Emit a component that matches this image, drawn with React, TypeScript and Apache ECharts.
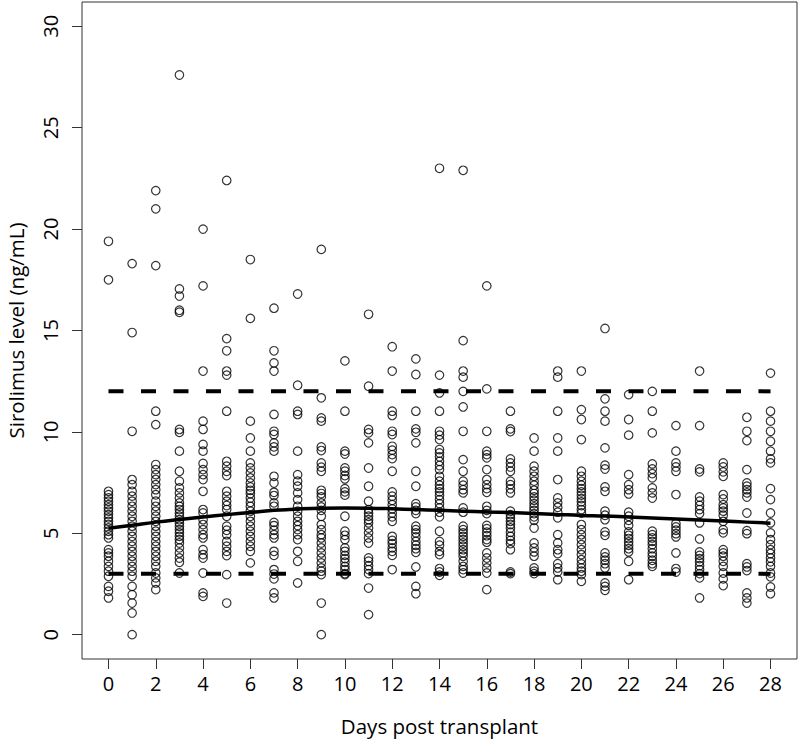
import React, { useEffect, useRef } from "react";
import * as echarts from "echarts";

// Sirolimus levels per day post transplant
const day0 = [19.4, 17.5, 7.07, 6.9, 6.74, 6.58, 6.41, 6.25, 6.09, 5.92, 5.76, 5.59, 5.43, 5.26, 5.1, 4.93, 4.77, 4.19, 4.03, 3.87, 3.62, 3.37, 3.13, 2.88, 2.38, 2.14, 1.81];
const day1 = [18.3, 14.9, 10.03, 7.65, 7.4, 7.07, 6.83, 6.58, 6.33, 6.09, 5.84, 5.59, 5.35, 5.1, 4.85, 4.6, 4.36, 4.11, 3.87, 3.62, 3.37, 3.13, 2.88, 2.38, 1.97, 1.56, 1.07, 0.0];
const day2 = [21.9, 21.0, 18.2, 11.02, 10.36, 8.39, 8.14, 7.89, 7.65, 7.4, 7.15, 6.9, 6.58, 6.33, 6.09, 5.84, 5.59, 5.35, 5.1, 4.85, 4.6, 4.36, 4.11, 3.87, 3.62, 3.37, 3.04, 2.8, 2.55, 2.22];
const day3 = [27.6, 17.05, 16.7, 16.0, 15.9, 10.12, 9.98, 9.05, 8.06, 7.57, 7.24, 6.99, 6.74, 6.5, 6.33, 6.17, 6.0, 5.84, 5.67, 5.51, 5.35, 5.18, 5.02, 4.85, 4.69, 4.52, 4.28, 4.03, 3.78, 3.57, 3.04];
const day4 = [20.0, 17.2, 13.0, 10.53, 10.12, 9.38, 9.05, 8.44, 8.14, 7.89, 7.65, 7.07, 6.17, 6.0, 5.67, 5.43, 5.18, 4.93, 4.77, 4.19, 3.95, 3.78, 3.04, 2.06, 1.89];
const day5 = [22.4, 14.6, 14.0, 13.0, 12.8, 11.02, 8.55, 8.31, 8.06, 7.85, 7.07, 6.83, 6.58, 6.37, 6.17, 5.84, 5.35, 5.15, 4.93, 4.6, 4.36, 4.11, 3.9, 2.96, 1.56];
const day6 = [18.5, 15.6, 10.53, 9.7, 9.05, 8.47, 8.22, 7.98, 7.73, 7.48, 7.29, 7.12, 6.96, 6.74, 6.53, 6.33, 6.09, 5.84, 5.59, 5.35, 5.1, 4.85, 4.6, 4.36, 4.11, 3.54];
const day7 = [16.1, 14.0, 13.4, 13.0, 10.86, 10.03, 9.87, 9.46, 9.26, 9.05, 7.81, 7.48, 7.02, 6.86, 6.5, 6.33, 5.54, 5.38, 5.15, 4.93, 4.77, 4.11, 3.91, 3.21, 2.99, 2.75, 2.06, 1.81];
const day8 = [16.8, 12.3, 11.02, 10.86, 9.05, 7.89, 7.57, 7.32, 6.99, 6.66, 6.33, 6.09, 5.84, 5.59, 5.38, 5.18, 4.93, 4.69, 4.11, 3.62, 2.55];
const day9 = [19.0, 11.68, 10.69, 10.53, 9.26, 9.08, 8.47, 8.26, 8.06, 7.12, 6.96, 6.79, 6.5, 6.3, 6.13, 5.84, 5.43, 5.18, 4.93, 4.77, 4.52, 4.28, 4.03, 3.78, 3.54, 3.29, 3.13, 2.96, 1.56, 0.0];
const day10 = [13.5, 11.02, 9.05, 8.91, 8.22, 8.06, 7.85, 7.68, 7.2, 7.04, 6.88, 5.84, 5.1, 4.9, 4.69, 4.28, 4.11, 3.91, 3.75, 3.57, 3.37, 3.21, 3.01, 2.96];
const day11 = [15.8, 12.25, 10.12, 9.95, 9.46, 8.22, 7.32, 6.58, 6.17, 6.0, 5.84, 5.67, 5.51, 5.26, 5.02, 4.77, 4.52, 3.78, 3.62, 3.4, 3.21, 3.01, 2.3, 0.99];
const day12 = [14.2, 13.0, 11.02, 10.81, 10.03, 9.87, 9.29, 9.1, 8.88, 8.68, 8.06, 7.04, 6.83, 6.63, 6.41, 6.2, 6.0, 5.81, 5.59, 4.85, 4.65, 4.49, 4.28, 4.11, 3.91, 3.21];
const day13 = [13.6, 12.83, 11.02, 10.15, 9.98, 9.46, 8.06, 7.32, 6.46, 6.3, 6.13, 5.97, 5.35, 5.18, 5.02, 4.82, 4.6, 4.41, 4.24, 4.06, 3.34, 2.38, 2.02];
const day14 = [23.0, 12.8, 11.92, 11.02, 10.03, 9.84, 9.62, 9.13, 8.96, 8.77, 8.55, 8.34, 8.14, 7.81, 7.57, 7.37, 7.2, 7.04, 6.86, 6.66, 6.46, 6.25, 6.04, 5.81, 5.1, 4.6, 4.41, 4.11, 3.95, 3.26, 3.09, 2.93];
const day15 = [22.9, 14.5, 13.0, 12.7, 12.0, 11.23, 10.03, 8.63, 8.06, 7.57, 7.37, 7.15, 6.99, 6.25, 6.04, 5.35, 5.18, 5.02, 4.85, 4.69, 4.52, 4.36, 4.19, 4.03, 3.87, 3.62, 3.37, 3.21, 3.04];
const day16 = [17.2, 12.12, 10.03, 9.05, 8.88, 8.72, 8.14, 7.65, 7.4, 7.2, 7.02, 6.33, 6.13, 5.97, 5.39, 5.23, 5.05, 4.88, 4.69, 4.56, 4.03, 3.78, 3.54, 3.29, 3.04, 2.22];
const day17 = [11.02, 10.15, 10.02, 8.67, 8.47, 8.27, 8.06, 7.57, 7.4, 7.19, 6.99, 6.09, 5.92, 5.76, 5.59, 5.43, 5.26, 5.05, 4.85, 4.65, 4.49, 4.19, 3.09, 3.01];
const day18 = [9.7, 9.05, 8.31, 8.06, 7.81, 7.57, 7.37, 7.12, 6.96, 6.79, 6.63, 6.46, 6.3, 6.13, 5.97, 5.81, 5.64, 5.26, 4.52, 4.28, 4.08, 3.87, 3.29, 3.13, 3.01];
const day19 = [13.0, 12.7, 11.02, 9.7, 9.05, 7.65, 6.74, 6.5, 6.28, 6.04, 5.76, 4.93, 4.52, 4.19, 4.0, 3.5, 3.29, 3.09, 2.71];
const day20 = [13.0, 11.1, 10.61, 9.62, 8.06, 7.81, 7.57, 7.37, 7.2, 7.04, 6.88, 6.71, 6.55, 6.37, 6.17, 6.0, 5.43, 5.18, 4.93, 4.69, 4.44, 4.19, 3.95, 3.7, 3.49, 3.29, 3.13, 2.96, 2.63];
const day21 = [15.1, 11.63, 11.02, 10.53, 9.21, 8.36, 8.17, 7.29, 7.07, 6.09, 5.89, 5.67, 5.07, 4.9, 4.03, 3.83, 3.67, 3.5, 3.29, 2.55, 2.38, 2.19];
const day22 = [11.84, 10.61, 9.84, 7.89, 7.4, 7.15, 6.94, 6.04, 5.84, 5.64, 5.39, 5.07, 4.9, 4.74, 4.57, 4.41, 4.24, 4.08, 3.62, 2.71];
const day23 = [12.0, 11.02, 9.95, 8.42, 8.17, 7.94, 7.73, 7.24, 6.99, 6.74, 5.1, 4.93, 4.77, 4.6, 4.44, 4.24, 4.03, 3.87, 3.67, 3.5, 3.37];
const day24 = [10.31, 9.05, 8.47, 8.27, 8.06, 6.91, 5.48, 5.31, 5.15, 4.98, 4.82, 4.03, 3.26, 3.09];
const day25 = [13.0, 10.31, 8.17, 8.03, 6.79, 6.58, 6.37, 6.17, 5.97, 5.51, 4.72, 4.08, 3.91, 3.75, 3.59, 3.4, 3.21, 3.01, 2.8, 1.81];
const day26 = [8.47, 8.27, 8.03, 7.81, 6.91, 6.69, 6.41, 6.25, 6.09, 5.89, 5.59, 5.18, 5.02, 4.19, 4.03, 3.87, 3.62, 3.37, 3.04, 2.75, 2.42];
const day27 = [10.72, 10.03, 9.57, 8.14, 7.48, 7.32, 7.15, 6.99, 6.79, 6.0, 5.13, 4.98, 3.5, 3.34, 3.16, 2.06, 1.81, 1.56];
const day28 = [12.9, 11.02, 10.53, 10.03, 9.54, 9.05, 8.67, 8.47, 7.2, 6.66, 6.0, 5.51, 5.02, 4.69, 4.44, 4.19, 4.0, 3.78, 3.59, 3.37, 3.04, 2.85, 2.35, 2.02];

const levelsByDay = [
  day0, day1, day2, day3, day4, day5, day6, day7, day8, day9,
  day10, day11, day12, day13, day14, day15, day16, day17, day18, day19,
  day20, day21, day22, day23, day24, day25, day26, day27, day28,
];

// Smoothed trend
const smoothDays = [0, 1, 2, 3, 4, 5, 6, 7, 8, 9, 10, 11, 12, 13, 14, 15, 16, 17, 18, 19, 20, 21, 22, 23, 24, 25, 26, 27, 28];
const smoothLevels = [5.25, 5.4, 5.55, 5.68, 5.8, 5.92, 6.03, 6.13, 6.2, 6.24, 6.25, 6.24, 6.21, 6.17, 6.13, 6.09, 6.05, 6.02, 5.98, 5.93, 5.88, 5.85, 5.8, 5.75, 5.7, 5.65, 5.6, 5.55, 5.5];

// Target range
const targetRange = [3, 12];
const targetStart = 0;
const targetEnd = 28;

// Axis ticks
const xTicks = [0, 2, 4, 6, 8, 10, 12, 14, 16, 18, 20, 22, 24, 26, 28];
const yTicks = [0, 5, 10, 15, 20, 25, 30];

const FONT = "'Open Sans', 'Noto Sans', sans-serif";

export default function App() {
  const ref = useRef<HTMLDivElement>(null);

  useEffect(() => {
    if (!ref.current) return;
    const chart = echarts.init(ref.current, undefined, { renderer: "svg" });

    const points: number[][] = [];
    levelsByDay.forEach((vals, d) => {
      vals.forEach((v) => points.push([d, v]));
    });

    const series: any[] = [
      {
        type: "scatter",
        data: points,
        symbol: "circle",
        symbolSize: 8.5,
        itemStyle: { color: "rgba(0,0,0,0)", borderColor: "#000", borderWidth: 1.2 },
        silent: true,
      },
      {
        type: "line",
        data: smoothDays.map((d, i) => [d, smoothLevels[i]]),
        smooth: true,
        symbol: "none",
        lineStyle: { color: "#000", width: 3.5 },
        silent: true,
      },
    ];
    targetRange.forEach((t) => {
      series.push({
        type: "line",
        data: [
          [targetStart, t],
          [targetEnd, t],
        ],
        symbol: "none",
        lineStyle: { color: "#000", width: 4, type: [15, 17.5], cap: "butt" },
        silent: true,
      });
    });

    chart.setOption({
      animation: false,
      backgroundColor: "#fff",
      grid: {
        left: 82,
        right: 3,
        top: 2,
        bottom: 82,
        show: true,
        borderColor: "#333",
        borderWidth: 1,
        backgroundColor: "transparent",
        containLabel: false,
        outerBoundsMode: "none",
      },
      xAxis: {
        type: "value",
        min: -1.12,
        max: 29.12,
        name: "Days post transplant",
        nameLocation: "middle",
        nameGap: 56,
        nameMoveOverlap: false,
        nameTextStyle: { fontFamily: FONT, fontSize: 20.5, color: "#000" },
        axisLine: { show: false, onZero: false },
        splitLine: { show: false },
        axisTick: { show: true, inside: false, length: 10, customValues: xTicks, lineStyle: { color: "#333", width: 1 } },
        axisLabel: { show: true, customValues: xTicks, margin: 14, fontFamily: FONT, fontSize: 20, color: "#000" },
      },
      yAxis: {
        type: "value",
        min: -1.2,
        max: 31.2,
        name: "Sirolimus level (ng/mL)",
        nameLocation: "middle",
        nameRotate: 90,
        nameGap: 56,
        nameMoveOverlap: false,
        nameTextStyle: { fontFamily: FONT, fontSize: 20.5, color: "#000" },
        axisLine: { show: false, onZero: false },
        splitLine: { show: false },
        axisTick: { show: true, inside: false, length: 10, customValues: yTicks, lineStyle: { color: "#333", width: 1 } },
        axisLabel: { show: true, customValues: yTicks, rotate: 90, margin: 22, fontFamily: FONT, fontSize: 20, color: "#000" },
      },
      series,
    });

    return () => chart.dispose();
  }, []);

  return (
    <div
      ref={ref}
      style={{ position: "absolute", left: 0, top: 0, width: 800, height: 741 }}
    />
  );
}
